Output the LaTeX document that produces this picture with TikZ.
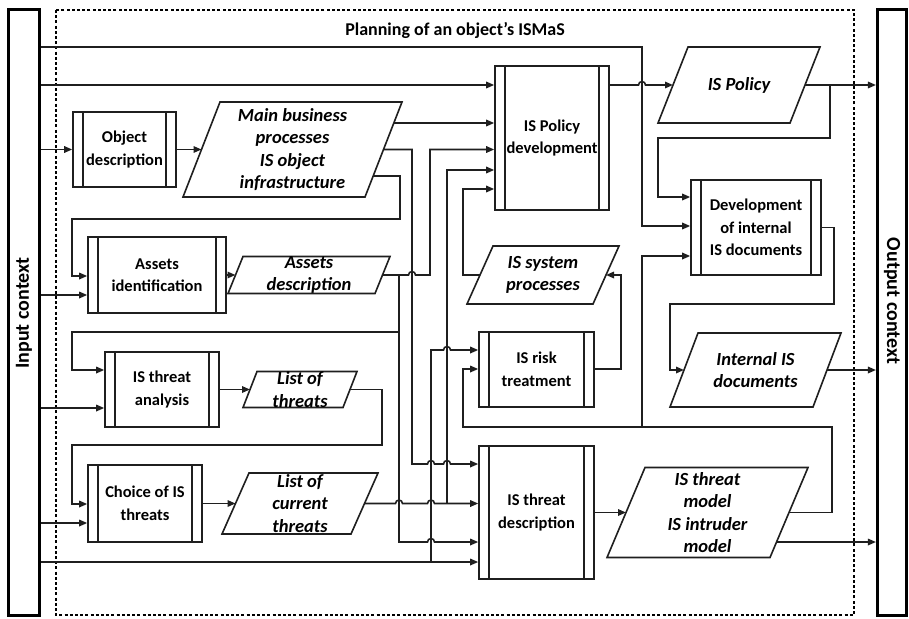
\documentclass[tikz,border=0pt]{standalone}
\usepackage{fontspec}
\setmainfont{Carlito}
\usetikzlibrary{arrows.meta}
\pgfdeclarelayer{bg}
\pgfdeclarelayer{lines}
\pgfdeclarelayer{shapes}
\pgfsetlayers{bg,lines,shapes,main}
\newcommand{\mypara}[2]{\draw[ln,fill=white] ([xshift=#2]#1.north west) -- ([xshift=#2]#1.north east) -- ([xshift=-#2]#1.south east) -- ([xshift=-#2]#1.south west) -- cycle;}
\begin{document}
\begin{tikzpicture}[x=1pt,y=-1pt,
  ln/.style={line width=1.6pt,draw=black!88},
  arr/.style={ln,-{Triangle[length=8pt,width=6.5pt]}},
  proc/.style={draw=black!88,line width=1.6pt,fill=white,rectangle,inner sep=0pt,
     align=center,font=\fontsize{16.5}{22.5}\selectfont\bfseries,
     path picture={\draw[line width=1.6pt,draw=black!88]
        ([xshift=10pt]path picture bounding box.north west) -- ([xshift=10pt]path picture bounding box.south west)
        ([xshift=-10pt]path picture bounding box.north east) -- ([xshift=-10pt]path picture bounding box.south east);}},
  pshape/.style={rectangle,inner sep=0pt,outer sep=0pt},
  ptext/.style={align=center,font=\fontsize{18.5}{22.5}\selectfont\bfseries\itshape},
  bar/.style={draw=black,line width=2.6pt,fill=white,rectangle,inner sep=0pt},
  bartext/.style={font=\fontsize{20}{24}\selectfont\bfseries},
]
\useasboundingbox (0,0) rectangle (909,618);
\begin{pgfonlayer}{bg}
\fill[white] (0,0) rectangle (909,618);
\draw[line width=1.9pt,dash pattern=on 3pt off 2.2pt] (56,10) rectangle (854,615);
\end{pgfonlayer}

% context bars
\node[bar,minimum width=31.5pt,minimum height=606.5pt] (inbar) at (24,312.5) {};
\node[bartext,rotate=90] (intxt) at (24,313) {Input context};
\node[bar,minimum width=29.5pt,minimum height=606.5pt] (outbar) at (892,312.5) {};
\node[bartext,rotate=-90] (outtxt) at (892,301) {Output context};

\node[font=\fontsize{18}{22}\selectfont\bfseries] (title) at (455,30) {Planning of an object’s ISMaS};

% process boxes
\node[proc,minimum width=103pt,minimum height=75pt] (objd) at (124.5,149.5) {Object\\description};
\node[proc,minimum width=138pt,minimum height=76pt] (assid) at (157,275) {Assets\\identification};
\node[proc,minimum width=114pt,minimum height=75pt] (thran) at (162,389.5) {IS threat\\analysis};
\node[proc,minimum width=114pt,minimum height=77pt] (choice) at (145,503.5) {Choice of IS\\threats};
\node[proc,minimum width=114pt,minimum height=144pt] (ispdev) at (552,138) {IS Policy\\development};
\node[proc,minimum width=115pt,minimum height=75pt] (isrt) at (536.5,369.5) {IS risk\\treatment};
\node[proc,minimum width=115pt,minimum height=133pt] (istd) at (536.5,512.5) {IS threat\\description};
\node[proc,minimum width=130pt,minimum height=95pt] (devint) at (756,227.5) {Development\\of internal\\IS documents};

% data (parallelograms)
\node[pshape,minimum width=182pt,minimum height=95pt,label={[ptext]center:{Main business\\processes\\IS object\\infrastructure}}] (mb) at (292.5,149.5) {};
\node[pshape,minimum width=147pt,minimum height=37pt,label={[ptext]center:{Assets\\description}}] (asd) at (309,275) {};
\node[pshape,minimum width=126pt,minimum height=58pt,label={[ptext]center:{IS system\\processes}}] (issp) at (543,275) {};
\node[pshape,minimum width=132pt,minimum height=76pt,label={[ptext]center:{IS Policy}}] (isp) at (739,85) {};
\node[pshape,minimum width=143pt,minimum height=74pt,label={[ptext]center:{Internal IS\\documents}}] (intd) at (755.5,370) {};
\node[pshape,minimum width=163pt,minimum height=90pt,label={[ptext]center:{IS threat\\model\\IS intruder\\model}}] (itm) at (707.5,512.5) {};
\node[pshape,minimum width=100pt,minimum height=36pt,label={[ptext]center:{List of\\threats}}] (lot) at (300,389.5) {};
\node[pshape,minimum width=129pt,minimum height=61pt,label={[ptext]center:{List of\\current\\threats}}] (lct) at (300,503.5) {};

\begin{pgfonlayer}{shapes}
\mypara{mb}{18.5pt}
\mypara{asd}{7.5pt}
\mypara{issp}{13pt}
\mypara{isp}{15pt}
\mypara{intd}{14pt}
\mypara{itm}{19pt}
\mypara{lot}{7pt}
\mypara{lct}{13.5pt}
\end{pgfonlayer}

\begin{pgfonlayer}{lines}
\draw[arr] (inbar.east |- 0,47) -- (642,47) -- (642,226) -- (devint.west |- 0,226);
\draw[arr] (inbar.east |- 0,85) -- (ispdev.west |- 0,85);
\draw[arr] (inbar.east |- objd.west) -- (objd.west);
\draw[arr] (objd.east) -- (mb.west);
\draw[arr] (mb.center |- 0,123) -- (ispdev.west |- 0,123);
\draw[arr] (mb.center) -- (412,149.5) -- (412,464) -- (427.5,464) arc[start angle=180,end angle=0,radius=3.5pt] -- (443.5,464) arc[start angle=180,end angle=0,radius=3.5pt] -- (istd.west |- 0,464);
\draw[arr] (mb.center |- 0,176) -- (400,176) -- (400,219) -- (72,219) -- (72,276) -- (assid.west |- 0,276);
\draw[arr] (inbar.east |- 0,295) -- (assid.west |- 0,295);
\draw[arr] (assid.east) -- (asd.west);
\draw[arr] (asd.center) -- (408.5,275) arc[start angle=180,end angle=0,radius=3.5pt] -- (430,275) -- (430,149.5) -- (ispdev.west |- 0,149.5);
\draw[arr] (399,275) -- (399,542) -- (427.5,542) arc[start angle=180,end angle=0,radius=3.5pt] -- (istd.west |- 0,542);
\draw[arr] (399,332) -- (72,332) -- (72,370) -- (thran.west |- 0,370);
\draw[arr] (inbar.east |- 0,408) -- (thran.west |- 0,408);
\draw[arr] (thran.east) -- (lot.west);
\draw[arr] (lot.center) -- (382,389.5) -- (382,445) -- (72,445) -- (72,504) -- (choice.west |- 0,504);
\draw[arr] (inbar.east |- 0,523) -- (choice.west |- 0,523);
\draw[arr] (choice.east) -- (lct.west);
\draw[arr] (lct.center) -- (395.5,503.5) arc[start angle=180,end angle=0,radius=3.5pt] -- (427.5,503.5) arc[start angle=180,end angle=0,radius=3.5pt] -- (istd.west |- 0,503.5);
\draw[arr] (447,503.5) -- (447,170) -- (ispdev.west |- 0,170);
\draw[arr] (inbar.east |- 0,562) -- (istd.west |- 0,562);
\draw[arr] (431,562) -- (431,350) -- (443.5,350) arc[start angle=180,end angle=0,radius=3.5pt] -- (isrt.west |- 0,350);
\draw[arr] (istd.east) -- (itm.west);
\draw[arr] (itm.center) -- (832,512.5) -- (832,427) -- (463,427) -- (463,369) -- (isrt.west |- 0,369);
\draw[arr] (642,427) -- (642,256) -- (devint.west |- 0,256);
\draw[arr] (ispdev.east |- 0,85) -- (638.5,85) arc[start angle=180,end angle=0,radius=3.5pt] -- (isp.west);
\draw[arr] (isp.center) -- (outbar.west |- 0,85);
\draw[arr] (830,85) -- (830,138) -- (658,138) -- (658,197) -- (devint.west |- 0,197);
\draw[arr] (devint.east) -- (834,227.5) -- (834,304) -- (670,304) -- (670,370) -- (intd.west);
\draw[arr] (intd.center) -- (outbar.west |- 0,370);
\draw[arr] (itm.center |- 0,542) -- (outbar.west |- 0,542);
\draw[arr] (isrt.east |- 0,369) -- (621,369) -- (621,275) -- (issp.east);
\draw[arr] (issp.center) -- (463,275) -- (463,189) -- (ispdev.west |- 0,189);
\end{pgfonlayer}
\end{tikzpicture}
\end{document}
